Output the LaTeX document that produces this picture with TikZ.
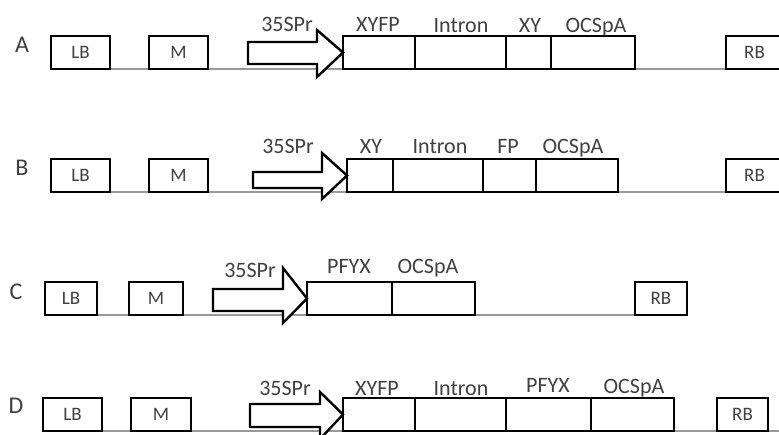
\documentclass[tikz,border=0pt]{standalone}
\usepackage{fontspec}
\setmainfont{Carlito}
\pgfdeclarelayer{background}
\pgfsetlayers{background,main}
\tikzset{
  part/.style={draw=black, line width=2.8pt, fill=white, inner sep=0pt, outer sep=0pt,
    font=\fontsize{19}{19}\selectfont, text=black!75},
  lbl/.style={font=\fontsize{22}{22}\selectfont, text=black!75, inner sep=0pt, anchor=base},
  rowlbl/.style={font=\fontsize{24}{24}\selectfont, text=black!75, inner sep=0pt, anchor=base},
  bline/.style={draw=black!40, line width=1.2pt},
  prom/.style={draw=black, line width=2.4pt, fill=white, line join=miter},
}
% \seg{name}{x1}{x2}{top}{bottom}{text}
\newcommand\seg[6]{\node[part, minimum width={#3-#2}, minimum height={#5-#4}, anchor=south west] (#1) at (#2,#5) {#6};}
% \promo{tail x}{head base x}{target node}{shaft top}{shaft bottom}{head top}{head bottom}
\newcommand\promo[7]{\draw[prom] (#1,#4) -- (#2,#4) -- (#2,#6) -- (#3.west) -- (#2,#7) -- (#2,#5) -- (#1,#5) -- cycle;}
\begin{document}
\begin{tikzpicture}[x=1pt,y=-1pt]
\useasboundingbox (0,0) rectangle (779,434);
\clip (0,0) rectangle (779,434);
% ---------- Row A ----------
\node[rowlbl] (rA) at (22,52) {A};
\seg{aLB}{51}{110}{36}{69}{LB}
\seg{aM}{149}{208}{36}{69}{M}
\seg{aXYFP}{343}{415}{36}{69}{}
\seg{aIn}{415}{506}{36}{69}{}
\seg{aXY}{506}{551}{36}{69}{}
\seg{aOCS}{551}{635}{36}{69}{}
\seg{aRB}{726}{790}{36}{69}{\hspace*{-7pt}RB}
\promo{248}{317}{aXYFP}{42}{64}{30}{77}
\node[lbl] (aPr) at (287,31) {35SPr};
\node[lbl] (aL1) at (378,31) {XYFP};
\node[lbl] (aL2) at (461,32) {Intron};
\node[lbl] (aL3) at (530,32) {XY};
\node[lbl] (aL4) at (596,32) {OCSpA};
\begin{pgfonlayer}{background}
\draw[bline] (aLB.south west) -- (aRB.south east);
\end{pgfonlayer}
% ---------- Row B ----------
\node[rowlbl] (rB) at (22,175) {B};
\seg{bLB}{51}{110}{159}{192}{LB}
\seg{bM}{149}{208}{159}{192}{M}
\seg{bXY}{347}{393}{159}{192}{}
\seg{bIn}{393}{483}{159}{192}{}
\seg{bFP}{483}{536}{159}{192}{}
\seg{bOCS}{536}{618}{159}{192}{}
\seg{bRB}{726}{790}{159}{192}{\hspace*{-7pt}RB}
\promo{253}{322}{bXY}{172}{188}{153}{199}
\node[lbl] (bPr) at (288,153) {35SPr};
\node[lbl] (bL1) at (371,153) {XY};
\node[lbl] (bL2) at (440,153) {Intron};
\node[lbl] (bL3) at (508,153) {FP};
\node[lbl] (bL4) at (573,153) {OCSpA};
\begin{pgfonlayer}{background}
\draw[bline] (bLB.south west) -- (bRB.south east);
\end{pgfonlayer}
% ---------- Row C ----------
\node[rowlbl] (rC) at (16,299) {C};
\seg{cLB}{45}{97}{282}{315}{LB}
\seg{cM}{129}{183}{282}{315}{M}
\seg{cPF}{307}{392}{282}{315}{}
\seg{cOCS}{392}{475}{282}{315}{}
\seg{cRB}{635}{687}{282}{315}{RB}
\promo{213}{283}{cPF}{289}{311}{268}{323}
\node[lbl] (cPr) at (250,277) {35SPr};
\node[lbl] (cL1) at (349,273) {PFYX};
\node[lbl] (cL2) at (428,273) {OCSpA};
\begin{pgfonlayer}{background}
\draw[bline] (cLB.south west) -- (cRB.south east);
\end{pgfonlayer}
% ---------- Row D ----------
\node[rowlbl] (rD) at (16,413) {D};
\seg{dLB}{43}{102}{398}{431}{LB}
\seg{dM}{131}{191}{398}{431}{M}
\seg{dXYFP}{343}{415}{398}{431}{}
\seg{dIn}{415}{506}{398}{431}{}
\seg{dPF}{506}{591}{398}{431}{}
\seg{dOCS}{591}{674}{398}{431}{}
\seg{dRB}{717}{768}{398}{431}{RB}
\promo{250}{320}{dXYFP}{404}{427}{392}{439}
\node[lbl] (dPr) at (285,395) {35SPr};
\node[lbl] (dL1) at (377,395) {XYFP};
\node[lbl] (dL2) at (461,395) {Intron};
\node[lbl] (dL3) at (548,392) {PFYX};
\node[lbl] (dL4) at (634,393) {OCSpA};
\coordinate (dEnd) at (790,431);
\begin{pgfonlayer}{background}
\draw[bline] (dLB.south west) -- (dEnd);
\end{pgfonlayer}
\end{tikzpicture}
\end{document}
